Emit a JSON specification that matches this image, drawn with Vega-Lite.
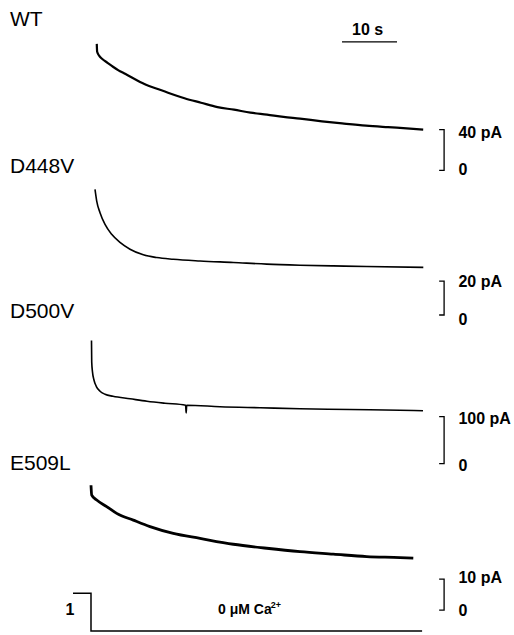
{
  "$schema": "https://vega.github.io/schema/vega-lite/v6.json",
  "width": 514,
  "height": 635,
  "autosize": {"type": "fit", "contains": "padding"},
  "padding": 0,
  "background": "white",
  "config": {"view": {"stroke": null}, "text": {"font": "Liberation Sans", "color": "#000", "dy": 2}, "line": {"color": "#000"}, "rule": {"color": "#000"}},
  "datasets": {
    "wt": [
      {"t": 1.05, "v": 123.9}, {"t": 1.12, "v": 116.1}, {"t": 1.5, "v": 112.2}, {"t": 2, "v": 109.3}, {"t": 3, "v": 105.4},
      {"t": 4, "v": 101.5}, {"t": 5, "v": 98.0}, {"t": 6, "v": 95.1}, {"t": 8, "v": 89.3}, {"t": 10, "v": 83.9},
      {"t": 12, "v": 80.0}, {"t": 14, "v": 76.1}, {"t": 17, "v": 70.7}, {"t": 20, "v": 66.3}, {"t": 23, "v": 62.0},
      {"t": 26, "v": 59.5}, {"t": 29, "v": 56.6}, {"t": 32, "v": 54.6}, {"t": 35, "v": 52.4}, {"t": 38, "v": 50.7},
      {"t": 42, "v": 48.1}, {"t": 46, "v": 45.9}, {"t": 50, "v": 43.9}, {"t": 54, "v": 42.4}, {"t": 58, "v": 41.0},
      {"t": 60.4, "v": 40.0}
    ],
    "d448v": [
      {"t": 0.73, "v": 74.1}, {"t": 1.04, "v": 67.2}, {"t": 1.64, "v": 60.4}, {"t": 2.55, "v": 53.5}, {"t": 3.76, "v": 47.6},
      {"t": 5.27, "v": 42.8}, {"t": 7.09, "v": 38.8}, {"t": 9.51, "v": 35.5}, {"t": 11.95, "v": 33.9}, {"t": 14.96, "v": 32.9},
      {"t": 19.82, "v": 31.9}, {"t": 25.87, "v": 31.0}, {"t": 31.95, "v": 30.0}, {"t": 38, "v": 29.4}, {"t": 44.05, "v": 29.0},
      {"t": 50.13, "v": 28.6}, {"t": 60.42, "v": 28.1}
    ],
    "d500v": [
      {"t": 0.09, "v": 262.8}, {"t": 0.13, "v": 217.0}, {"t": 0.27, "v": 195.7}, {"t": 0.55, "v": 177.7}, {"t": 1.0, "v": 163.8},
      {"t": 1.64, "v": 154.3}, {"t": 2.55, "v": 147.9}, {"t": 4, "v": 143.6}, {"t": 7.09, "v": 138.3}, {"t": 10.18, "v": 133.0},
      {"t": 13.45, "v": 128.7}, {"t": 17.2, "v": 124.5}, {"t": 17.3, "v": 108}, {"t": 17.4, "v": 124.4}, {"t": 23.45, "v": 121.3},
      {"t": 30.73, "v": 119.1}, {"t": 38, "v": 117.0}, {"t": 47.09, "v": 115.3}, {"t": 56.18, "v": 113.8}, {"t": 60.36, "v": 112.8}
    ],
    "e509l": [
      {"t": 0, "v": 40.4}, {"t": 0.13, "v": 37.2}, {"t": 1.04, "v": 35.6}, {"t": 2.85, "v": 33.5}, {"t": 4.67, "v": 31.3},
      {"t": 7.69, "v": 29.1}, {"t": 10.73, "v": 27.0}, {"t": 14.96, "v": 24.8}, {"t": 19.82, "v": 23.2}, {"t": 25.87, "v": 21.3},
      {"t": 31.95, "v": 20.0}, {"t": 38, "v": 18.9}, {"t": 44.05, "v": 18.1}, {"t": 50.13, "v": 17.3}, {"t": 56.18, "v": 17.0},
      {"t": 58.6, "v": 16.8}
    ],
    "ca": [
      {"t": -3.27, "v": 1}, {"t": 0, "v": 1}, {"t": 0, "v": 0}, {"t": 60.2, "v": 0}
    ]
  },
  "layer": [
    {
      "layer": [
        {"data": {"name": "wt"}, "mark": {"type": "line", "strokeWidth": 2.2, "interpolate": "monotone"},
         "encoding": {"x": {"field": "t", "type": "quantitative", "scale": {"domain": [-16.545, 76.909], "nice": false, "zero": false}, "axis": null},
                      "y": {"field": "v", "type": "quantitative", "scale": {"domain": [-452.68, 166.83], "nice": false, "zero": false}, "axis": null},
                      "order": {"value": null}}},
        {"data": {"values": [{"t": 63.3, "v": 40}, {"t": 64.2, "v": 40}, {"t": 64.2, "v": 0}, {"t": 63.3, "v": 0}]},
         "mark": {"type": "line", "strokeWidth": 1.3},
         "encoding": {"x": {"field": "t", "type": "quantitative"}, "y": {"field": "v", "type": "quantitative"}, "order": {"value": null}}},
        {"data": {"values": [{"t1": 45.64, "t2": 55.64, "v": 125.9}]},
         "mark": {"type": "rule", "strokeWidth": 1.3},
         "encoding": {"x": {"field": "t1", "type": "quantitative"}, "x2": {"field": "t2"}, "y": {"field": "v", "type": "quantitative"}}},
        {"data": {"values": [{"t": -14.73, "v": 149.3, "txt": "WT"}]},
         "mark": {"type": "text", "align": "left", "baseline": "middle", "fontSize": 21},
         "encoding": {"x": {"field": "t", "type": "quantitative"}, "y": {"field": "v", "type": "quantitative"}, "text": {"field": "txt"}}},
        {"data": {"values": [{"t": 66.8, "v": 38.5, "txt": "40 pA"}, {"t": 66.8, "v": 2.5, "txt": "0"}]},
         "mark": {"type": "text", "align": "left", "baseline": "middle", "fontSize": 16, "fontWeight": "bold"},
         "encoding": {"x": {"field": "t", "type": "quantitative"}, "y": {"field": "v", "type": "quantitative"}, "text": {"field": "txt"}}},
        {"data": {"values": [{"t": 50.3, "v": 139.5, "txt": "10 s"}]},
         "mark": {"type": "text", "align": "center", "baseline": "middle", "fontSize": 16, "fontWeight": "bold"},
         "encoding": {"x": {"field": "t", "type": "quantitative"}, "y": {"field": "v", "type": "quantitative"}, "text": {"field": "txt"}}}
      ]
    },
    {
      "layer": [
        {"data": {"name": "d448v"}, "mark": {"type": "line", "strokeWidth": 1.6, "interpolate": "monotone"},
         "encoding": {"x": {"field": "t", "type": "quantitative", "scale": {"domain": [-16.545, 76.909], "nice": false, "zero": false}, "axis": null},
                      "y": {"field": "v", "type": "quantitative", "scale": {"domain": [-187.65, 185.88], "nice": false, "zero": false}, "axis": null},
                      "order": {"value": null}}},
        {"data": {"values": [{"t": 63.3, "v": 20}, {"t": 64.2, "v": 20}, {"t": 64.2, "v": 0}, {"t": 63.3, "v": 0}]},
         "mark": {"type": "line", "strokeWidth": 1.3},
         "encoding": {"x": {"field": "t", "type": "quantitative"}, "y": {"field": "v", "type": "quantitative"}, "order": {"value": null}}},
        {"data": {"values": [{"t": -14.73, "v": 88.8, "txt": "D448V"}]},
         "mark": {"type": "text", "align": "left", "baseline": "middle", "fontSize": 21},
         "encoding": {"x": {"field": "t", "type": "quantitative"}, "y": {"field": "v", "type": "quantitative"}, "text": {"field": "txt"}}},
        {"data": {"values": [{"t": 66.8, "v": 20.6, "txt": "20 pA"}, {"t": 66.8, "v": -1.5, "txt": "0"}]},
         "mark": {"type": "text", "align": "left", "baseline": "middle", "fontSize": 16, "fontWeight": "bold"},
         "encoding": {"x": {"field": "t", "type": "quantitative"}, "y": {"field": "v", "type": "quantitative"}, "text": {"field": "txt"}}}
      ]
    },
    {
      "layer": [
        {"data": {"name": "d500v"}, "mark": {"type": "line", "strokeWidth": 1.6, "interpolate": "monotone"},
         "encoding": {"x": {"field": "t", "type": "quantitative", "scale": {"domain": [-16.545, 76.909], "nice": false, "zero": false}, "axis": null},
                      "y": {"field": "v", "type": "quantitative", "scale": {"domain": [-361.7, 989.36], "nice": false, "zero": false}, "axis": null},
                      "order": {"value": null}}},
        {"data": {"values": [{"t": 63.3, "v": 100}, {"t": 64.2, "v": 100}, {"t": 64.2, "v": 0}, {"t": 63.3, "v": 0}]},
         "mark": {"type": "line", "strokeWidth": 1.3},
         "encoding": {"x": {"field": "t", "type": "quantitative"}, "y": {"field": "v", "type": "quantitative"}, "order": {"value": null}}},
        {"data": {"values": [{"t": -14.73, "v": 327.7, "txt": "D500V"}]},
         "mark": {"type": "text", "align": "left", "baseline": "middle", "fontSize": 21},
         "encoding": {"x": {"field": "t", "type": "quantitative"}, "y": {"field": "v", "type": "quantitative"}, "text": {"field": "txt"}}},
        {"data": {"values": [{"t": 66.8, "v": 99, "txt": "100 pA"}, {"t": 66.8, "v": 0, "txt": "0"}]},
         "mark": {"type": "text", "align": "left", "baseline": "middle", "fontSize": 16, "fontWeight": "bold"},
         "encoding": {"x": {"field": "t", "type": "quantitative"}, "y": {"field": "v", "type": "quantitative"}, "text": {"field": "txt"}}}
      ]
    },
    {
      "layer": [
        {"data": {"name": "e509l"}, "mark": {"type": "line", "strokeWidth": 2.8, "interpolate": "monotone"},
         "encoding": {"x": {"field": "t", "type": "quantitative", "scale": {"domain": [-16.545, 76.909], "nice": false, "zero": false}, "axis": null},
                      "y": {"field": "v", "type": "quantitative", "scale": {"domain": [-7.42, 197.42], "nice": false, "zero": false}, "axis": null},
                      "order": {"value": null}}},
        {"data": {"values": [{"t": 63.3, "v": 10}, {"t": 64.2, "v": 10}, {"t": 64.2, "v": 0}, {"t": 63.3, "v": 0}]},
         "mark": {"type": "line", "strokeWidth": 1.3},
         "encoding": {"x": {"field": "t", "type": "quantitative"}, "y": {"field": "v", "type": "quantitative"}, "order": {"value": null}}},
        {"data": {"values": [{"t": -14.73, "v": 47.9, "txt": "E509L"}]},
         "mark": {"type": "text", "align": "left", "baseline": "middle", "fontSize": 21},
         "encoding": {"x": {"field": "t", "type": "quantitative"}, "y": {"field": "v", "type": "quantitative"}, "text": {"field": "txt"}}},
        {"data": {"values": [{"t": 66.8, "v": 11.0, "txt": "10 pA"}, {"t": 66.8, "v": 0.2, "txt": "0"}]},
         "mark": {"type": "text", "align": "left", "baseline": "middle", "fontSize": 16, "fontWeight": "bold"},
         "encoding": {"x": {"field": "t", "type": "quantitative"}, "y": {"field": "v", "type": "quantitative"}, "text": {"field": "txt"}}}
      ]
    },
    {
      "layer": [
        {"data": {"name": "ca"}, "mark": {"type": "line", "strokeWidth": 1.5},
         "encoding": {"x": {"field": "t", "type": "quantitative", "scale": {"domain": [-16.545, 76.909], "nice": false, "zero": false}, "axis": null},
                      "y": {"field": "v", "type": "quantitative", "scale": {"domain": [-0.0526, 16.66], "nice": false, "zero": false}, "axis": null},
                      "order": {"value": null}}},
        {"data": {"values": [{"t": -3.82, "v": 0.6, "txt": "1"}]},
         "mark": {"type": "text", "align": "center", "baseline": "middle", "fontSize": 16, "fontWeight": "bold"},
         "encoding": {"x": {"field": "t", "type": "quantitative"}, "y": {"field": "v", "type": "quantitative"}, "text": {"field": "txt"}}},
        {"data": {"values": [{"t": 23.09, "v": 0.6, "txt": "0 μM Ca"}]},
         "mark": {"type": "text", "align": "left", "baseline": "middle", "fontSize": 14, "fontWeight": "bold"},
         "encoding": {"x": {"field": "t", "type": "quantitative"}, "y": {"field": "v", "type": "quantitative"}, "text": {"field": "txt"}}},
        {"data": {"values": [{"t": 32.7, "v": 0.74, "txt": "2+"}]},
         "mark": {"type": "text", "align": "left", "baseline": "middle", "fontSize": 9, "fontWeight": "bold"},
         "encoding": {"x": {"field": "t", "type": "quantitative"}, "y": {"field": "v", "type": "quantitative"}, "text": {"field": "txt"}}}
      ]
    }
  ],
  "resolve": {"scale": {"y": "independent"}}
}
